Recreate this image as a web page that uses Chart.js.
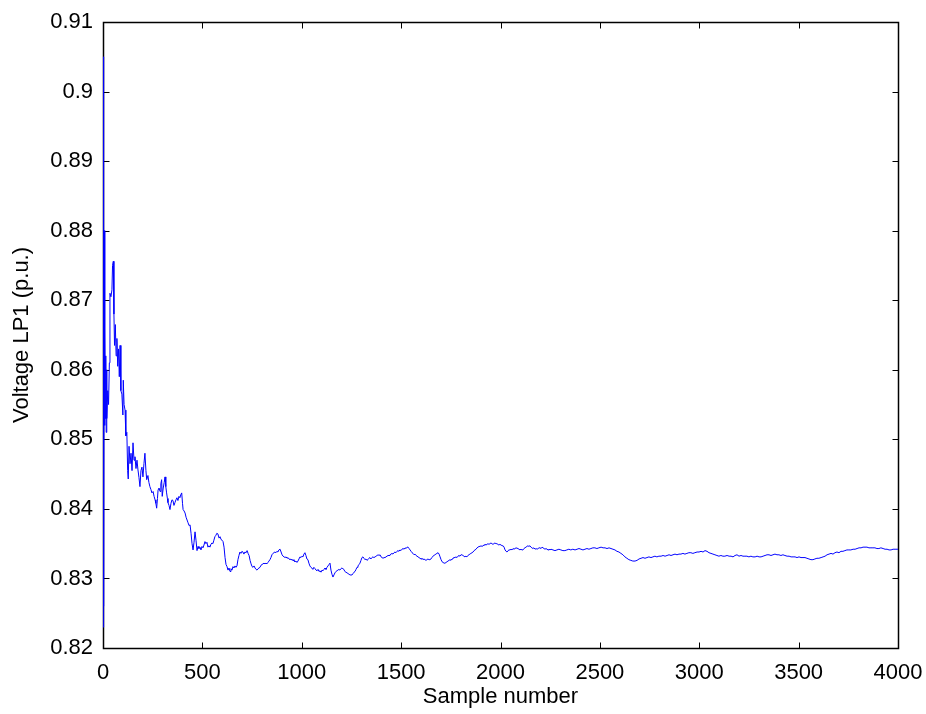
<!DOCTYPE html>
<html><head><meta charset="utf-8">
<script src="https://cdn.jsdelivr.net/npm/chart.js@4"></script>
<style>html,body{margin:0;padding:0;background:#fff}#wrap{width:926px;height:714px}</style>
</head><body><div id="wrap"><canvas id="c" width="926" height="714"></canvas></div>
<script>
const sampleNumbers=[0,2,4,6,8,10,12,14,16,18,20,24,28,32,35,40,45,48,52,55,58,62,66,70,74,78,82,86,90,95,100,102,106,111,115,120,124,127,131,136,141,146,151,156,161,166,171,176,181,186,191,196,201,206,211,216,220,226,231,236,241,246,252,257,262,266,270,274,277,282,287,291,295,298,303,308,312,316,320,324,327,332,337,342,347,352,357,362,367,372,377,382,387,391,396,400,403,408,413,418,423,428,433,438,443,448,453,458,463,468,473,478,483,488,493,498,503,508,513,518,523,528,533,538,543,548,553,558,563,568,573,578,584,589,594,599,604,609,614,619,624,629,634,639,644,649,654,659,664,669,674,679,684,689,694,699,704,709,714,720,725,730,735,740,745,750,755,760,765,770,775,780,785,790,795,800,805,810,815,820,825,830,835,840,845,850,855,860,865,870,875,880,885,891,896,901,906,911,916,921,926,931,936,941,946,951,956,961,966,971,976,981,986,991,996,1001,1006,1011,1016,1021,1026,1031,1036,1041,1046,1051,1056,1061,1067,1072,1077,1082,1087,1092,1097,1102,1107,1112,1117,1122,1127,1132,1137,1142,1147,1152,1157,1162,1167,1172,1177,1182,1187,1192,1197,1202,1207,1212,1217,1222,1228,1233,1238,1243,1248,1253,1258,1263,1268,1273,1278,1283,1288,1293,1298,1303,1308,1313,1318,1323,1328,1333,1338,1343,1348,1353,1358,1363,1369,1374,1379,1384,1389,1394,1399,1404,1409,1414,1419,1424,1429,1434,1439,1444,1449,1454,1459,1464,1469,1474,1479,1484,1489,1494,1499,1504,1510,1515,1520,1525,1530,1535,1540,1545,1550,1555,1560,1565,1570,1575,1580,1585,1590,1595,1600,1605,1610,1615,1620,1625,1630,1635,1640,1645,1650,1655,1660,1665,1670,1675,1680,1686,1691,1696,1701,1706,1711,1716,1721,1726,1731,1736,1741,1746,1751,1756,1761,1766,1771,1776,1781,1786,1791,1796,1801,1806,1811,1816,1821,1826,1831,1836,1841,1846,1851,1857,1862,1867,1872,1877,1882,1887,1892,1897,1902,1907,1912,1917,1922,1927,1932,1937,1942,1947,1952,1957,1962,1967,1972,1977,1982,1987,1992,1997,2003,2008,2013,2018,2023,2028,2033,2038,2043,2048,2053,2058,2063,2068,2073,2078,2083,2088,2093,2098,2103,2108,2113,2118,2123,2128,2133,2138,2143,2148,2153,2158,2163,2168,2174,2179,2184,2189,2194,2199,2204,2209,2214,2219,2224,2229,2234,2239,2244,2249,2254,2264,2274,2284,2294,2304,2314,2324,2334,2344,2354,2364,2375,2385,2395,2405,2415,2425,2435,2445,2455,2465,2475,2485,2495,2506,2516,2526,2536,2546,2556,2566,2576,2586,2596,2606,2616,2626,2636,2646,2656,2666,2677,2687,2697,2707,2717,2727,2737,2747,2757,2767,2777,2787,2797,2808,2818,2828,2838,2848,2858,2868,2878,2888,2898,2908,2918,2928,2938,2948,2958,2968,2978,2989,2999,3009,3019,3029,3039,3049,3059,3069,3079,3089,3099,3109,3119,3129,3140,3150,3160,3170,3180,3190,3200,3210,3220,3230,3240,3250,3260,3270,3281,3291,3301,3311,3321,3331,3341,3351,3361,3371,3381,3391,3401,3411,3421,3431,3442,3452,3462,3472,3482,3492,3502,3512,3522,3532,3542,3552,3562,3572,3582,3592,3602,3613,3623,3633,3643,3653,3663,3673,3683,3693,3703,3713,3723,3733,3743,3753,3763,3774,3784,3794,3804,3814,3824,3834,3844,3854,3864,3874,3884,3894,3904,3914,3925,3935,3945,3955,3965,3975,3985,4000];
const voltageLP1=[0.823,0.905,0.826,0.880,0.852,0.866,0.853,0.862,0.851,0.860,0.853,0.857,0.855,0.861,0.871,0.8705,0.8715,0.875,0.8756,0.868,0.8635,0.8665,0.862,0.8645,0.8605,0.863,0.859,0.8635,0.857,0.8565,0.8535,0.8585,0.855,0.8542,0.8505,0.851,0.8455,0.8443,0.849,0.8465,0.848,0.8455,0.8495,0.847,0.8475,0.8458,0.847,0.8456,0.8445,0.8432,0.8455,0.846,0.8446,0.8465,0.848,0.8455,0.8442,0.8448,0.8438,0.8432,0.8428,0.8423,0.8425,0.8418,0.8413,0.8408,0.8401,0.8415,0.8427,0.843,0.8425,0.8436,0.8442,0.8418,0.843,0.8438,0.8446,0.8432,0.8423,0.8415,0.8409,0.8405,0.8399,0.8408,0.8413,0.8412,0.8405,0.8409,0.8413,0.8416,0.8412,0.8418,0.8416,0.842,0.8423,0.8408,0.8399,0.8397,0.8394,0.8388,0.8384,0.838,0.8376,0.8377,0.8365,0.835,0.8341,0.8352,0.8367,0.8355,0.834,0.8346,0.8343,0.8345,0.8341,0.8346,0.8344,0.8348,0.8353,0.835,0.8352,0.8345,0.8347,0.8345,0.8349,0.8351,0.835,0.8355,0.836,0.8362,0.8365,0.8364,0.8358,0.836,0.8356,0.8355,0.8353,0.8345,0.833,0.832,0.8317,0.8312,0.8315,0.831,0.8314,0.8312,0.8317,0.8315,0.8318,0.8316,0.8318,0.8327,0.8333,0.8338,0.8336,0.8339,0.8338,0.8335,0.8338,0.8337,0.834,0.8336,0.8333,0.8326,0.8321,0.8317,0.8316,0.8318,0.8315,0.8313,0.8312,0.8314,0.8315,0.8316,0.8319,0.832,0.832,0.8322,0.8321,0.8322,0.8321,0.8323,0.8325,0.8327,0.833,0.8334,0.8336,0.8337,0.8338,0.8337,0.8339,0.8338,0.8341,0.8342,0.8338,0.8334,0.8332,0.8331,0.833,0.8331,0.8329,0.833,0.8328,0.8327,0.8328,0.8326,0.8327,0.8325,0.8324,0.8325,0.8323,0.8325,0.8328,0.8331,0.833,0.8332,0.8331,0.8335,0.8337,0.8333,0.8328,0.8327,0.8322,0.8318,0.8316,0.8315,0.8313,0.8316,0.8314,0.8312,0.8311,0.8313,0.831,0.8311,0.8309,0.8312,0.8311,0.8313,0.8315,0.8313,0.8316,0.8318,0.832,0.8322,0.8312,0.8306,0.8302,0.8305,0.8308,0.831,0.8311,0.8312,0.8313,0.8312,0.8314,0.8315,0.8314,0.8313,0.831,0.8309,0.8308,0.8307,0.8306,0.8305,0.8305,0.8305,0.8307,0.8309,0.831,0.8313,0.8316,0.8318,0.832,0.8322,0.8326,0.833,0.8331,0.8329,0.8327,0.8328,0.8326,0.8327,0.8329,0.833,0.8328,0.833,0.8331,0.833,0.8331,0.8332,0.8333,0.8334,0.8333,0.8334,0.8331,0.833,0.8329,0.833,0.833,0.8331,0.8332,0.8333,0.8333,0.8334,0.8335,0.8336,0.8335,0.8337,0.8338,0.8337,0.8339,0.834,0.8339,0.8341,0.834,0.8342,0.8343,0.8342,0.8344,0.8343,0.8345,0.8345,0.8343,0.8341,0.8339,0.8337,0.8336,0.8334,0.8335,0.8333,0.8332,0.8331,0.833,0.8329,0.8328,0.8329,0.8327,0.8328,0.8327,0.8326,0.8327,0.8328,0.8327,0.8327,0.8328,0.833,0.8332,0.8333,0.8334,0.8335,0.8336,0.8337,0.8335,0.8331,0.8327,0.8324,0.8323,0.8322,0.8322,0.8323,0.8324,0.8325,0.8326,0.8327,0.8326,0.8328,0.8329,0.833,0.833,0.8331,0.833,0.8332,0.8333,0.8332,0.8334,0.8334,0.8333,0.8332,0.8331,0.8332,0.8331,0.8333,0.8334,0.8335,0.8336,0.8337,0.8338,0.834,0.8341,0.8342,0.8344,0.8345,0.8346,0.8346,0.8347,0.8346,0.8347,0.8348,0.8349,0.8348,0.8349,0.835,0.8349,0.835,0.8351,0.835,0.8349,0.835,0.8351,0.835,0.835,0.8349,0.8348,0.8349,0.8348,0.8347,0.8347,0.8345,0.8341,0.8339,0.8338,0.834,0.8341,0.8341,0.8342,0.8341,0.8343,0.8342,0.8343,0.8344,0.8344,0.8343,0.8342,0.8341,0.8342,0.8341,0.8341,0.8343,0.8344,0.8345,0.8346,0.8347,0.8346,0.8347,0.8345,0.8344,0.8343,0.8344,0.8342,0.8343,0.8342,0.8343,0.8344,0.8344,0.8343,0.8345,0.8344,0.8343,0.8342,0.8343,0.8342,0.8341,0.8342,0.8341,0.8342,0.8341,0.834,0.8341,0.8342,0.8341,0.834,0.834,0.8341,0.8342,0.8341,0.8342,0.8341,0.8342,0.8343,0.8342,0.8341,0.8342,0.8343,0.8342,0.8343,0.8344,0.8344,0.8343,0.8344,0.8345,0.8344,0.8344,0.8343,0.8344,0.8343,0.8342,0.8341,0.8339,0.8338,0.8336,0.8334,0.8331,0.8329,0.8327,0.8326,0.8325,0.8325,0.8326,0.8328,0.8329,0.833,0.8329,0.833,0.8331,0.833,0.8331,0.8332,0.8331,0.8332,0.8332,0.8333,0.8332,0.8333,0.8334,0.8333,0.8334,0.8335,0.8334,0.8335,0.8335,0.8336,0.8335,0.8336,0.8337,0.8337,0.8336,0.8337,0.8338,0.8338,0.8339,0.8338,0.834,0.8339,0.8337,0.8336,0.8335,0.8334,0.8333,0.8332,0.8333,0.8332,0.8332,0.8333,0.8332,0.8332,0.8331,0.8333,0.8334,0.8332,0.8333,0.8332,0.8332,0.8332,0.8331,0.8332,0.8331,0.8331,0.8332,0.8331,0.8331,0.8332,0.8333,0.8334,0.8334,0.8333,0.8334,0.8335,0.8334,0.8334,0.8333,0.8334,0.8333,0.8332,0.8332,0.8331,0.8331,0.8331,0.833,0.8331,0.833,0.833,0.833,0.8329,0.8328,0.8327,0.8327,0.8328,0.8329,0.8329,0.833,0.8331,0.8332,0.8334,0.8335,0.8336,0.8335,0.8337,0.8338,0.8337,0.8339,0.8339,0.834,0.8341,0.8341,0.8341,0.8342,0.8342,0.8343,0.8344,0.8344,0.8345,0.8345,0.8345,0.8344,0.8344,0.8344,0.8344,0.8343,0.8343,0.8344,0.8343,0.8342,0.8342,0.8341,0.8341,0.8342,0.8342,0.8342];
const xTickValues=[0,500,1000,1500,2000,2500,3000,3500,4000];
const yTickValues=[0.82,0.83,0.84,0.85,0.86,0.87,0.88,0.89,0.9,0.91];
const xAxisTitle='Sample number';
const yAxisTitle='Voltage LP1 (p.u.)';

const points=sampleNumbers.map((s,i)=>({x:s,y:voltageLP1[i]}));
const FONT="'Liberation Sans', Arial, sans-serif";

const frameTicks={id:'frameTicks',
  beforeDatasetsDraw(chart){
    const {ctx,chartArea:a,scales:{x,y}}=chart;
    const L=Math.round(a.left)+0.5,R=Math.round(a.right)+0.5,T=Math.round(a.top)+0.5,B=Math.round(a.bottom)+0.5;
    ctx.save();
    ctx.strokeStyle='#000';ctx.lineWidth=1;
    ctx.beginPath();
    xTickValues.forEach(v=>{const p=Math.round(x.getPixelForValue(v))+0.5;ctx.moveTo(p,B);ctx.lineTo(p,B-6);ctx.moveTo(p,T);ctx.lineTo(p,T+6);});
    yTickValues.forEach(v=>{const p=Math.round(y.getPixelForValue(v))+0.5;ctx.moveTo(L,p);ctx.lineTo(L+6,p);ctx.moveTo(R,p);ctx.lineTo(R-6,p);});
    ctx.stroke();
    ctx.lineWidth=1.5;
    ctx.strokeRect(L,T,R-L,B-T);
    ctx.restore();
  }};

new Chart(document.getElementById('c'),{
  type:'line',
  data:{datasets:[{data:points,borderColor:'rgb(0,0,255)',borderWidth:1,pointRadius:0,tension:0,fill:false}]},
  options:{
    responsive:false,animation:false,
    layout:{padding:{top:22,right:28,left:0,bottom:0}},
    plugins:{legend:{display:false},tooltip:{enabled:false}},
    scales:{
      x:{type:'linear',min:0,max:4000,
        afterBuildTicks(s){s.ticks=xTickValues.map(v=>({value:v}));},
        afterFit(s){s.height=66;s.paddingLeft=0;s.paddingRight=0;},
        grid:{display:false,drawTicks:false},border:{display:false},
        ticks:{padding:12,color:'#000',font:{family:FONT,size:22},maxRotation:0,autoSkip:false,callback:v=>String(v)},
        title:{display:true,text:xAxisTitle,color:'#000',font:{family:FONT,size:22},padding:{top:0,bottom:4}}},
      y:{type:'linear',min:0.82,max:0.91,
        afterBuildTicks(s){s.ticks=yTickValues.map(v=>({value:v}));},
        afterFit(s){s.width=103;s.paddingTop=0;s.paddingBottom=0;},
        grid:{display:false,drawTicks:false},border:{display:false},
        ticks:{padding:10,color:'#000',font:{family:FONT,size:22},autoSkip:false,callback:v=>String(+v.toFixed(2))},
        title:{display:true,text:yAxisTitle,color:'#000',font:{family:FONT,size:22},padding:{top:9,bottom:0}}}
    }
  },
  plugins:[frameTicks]
});
</script></body></html>
